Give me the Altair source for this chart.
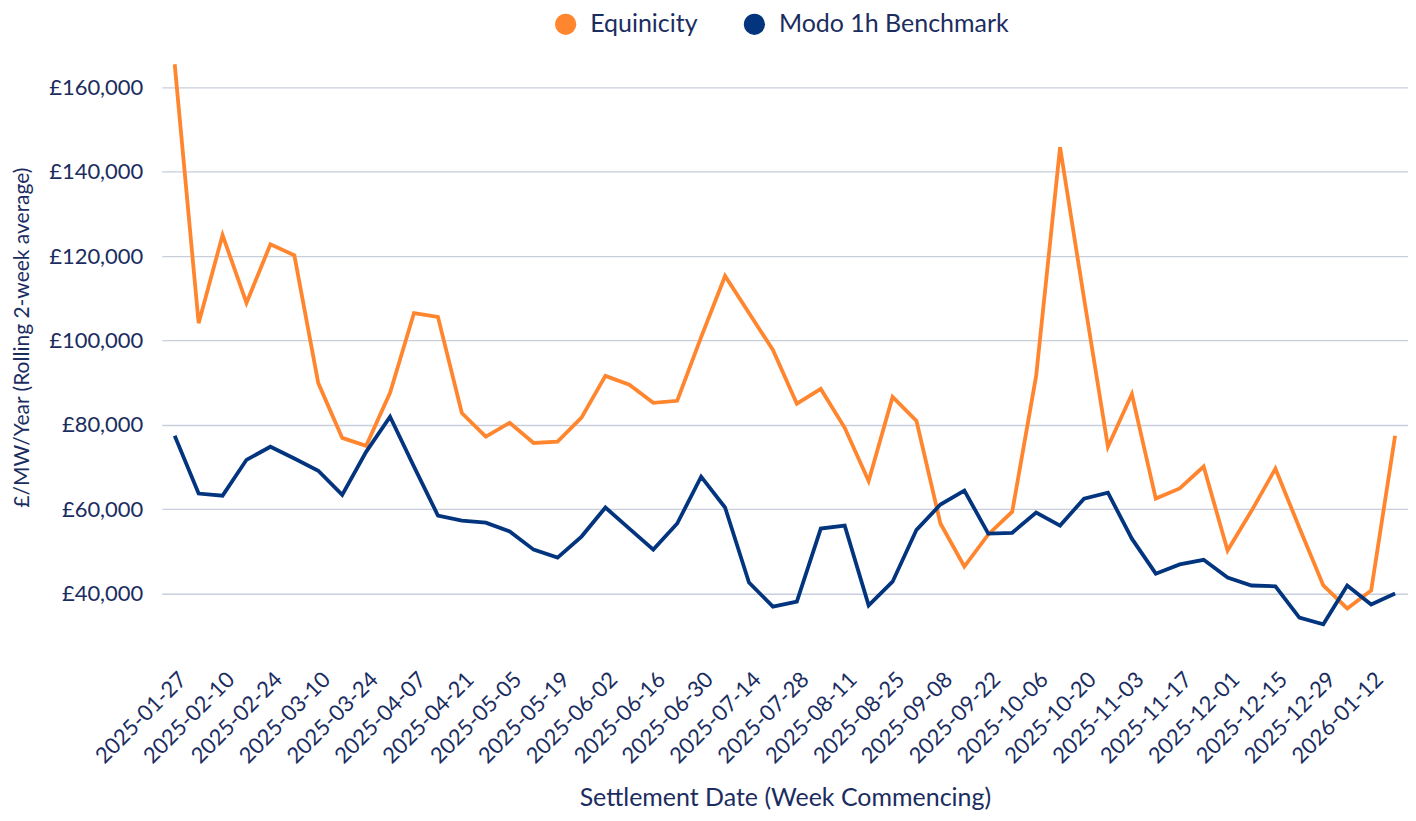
import altair as alt
import pandas as pd

weeks = [
    "2025-01-27", "2025-02-03", "2025-02-10", "2025-02-17", "2025-02-24", "2025-03-03",
    "2025-03-10", "2025-03-17", "2025-03-24", "2025-03-31", "2025-04-07", "2025-04-14",
    "2025-04-21", "2025-04-28", "2025-05-05", "2025-05-12", "2025-05-19", "2025-05-26",
    "2025-06-02", "2025-06-09", "2025-06-16", "2025-06-23", "2025-06-30", "2025-07-07",
    "2025-07-14", "2025-07-21", "2025-07-28", "2025-08-04", "2025-08-11", "2025-08-18",
    "2025-08-25", "2025-09-01", "2025-09-08", "2025-09-15", "2025-09-22", "2025-09-29",
    "2025-10-06", "2025-10-13", "2025-10-20", "2025-10-27", "2025-11-03", "2025-11-10",
    "2025-11-17", "2025-11-24", "2025-12-01", "2025-12-08", "2025-12-15", "2025-12-22",
    "2025-12-29", "2026-01-05", "2026-01-12", "2026-01-19",
]

equinicity = [
    165500, 104100, 125000, 108900, 122800, 120200, 89900, 76900, 75000, 87600,
    106500, 105600, 82800, 77200, 80500, 75700, 76000, 81700, 91600, 89500,
    85200, 85700, 100800, 115300, 106500, 97750, 85000, 88500, 79300, 66700,
    86600, 80900, 56600, 46400, 54000, 59400, 91600, 145800, 110000, 74800,
    87300, 62500, 64900, 70100, 50200, 59600, 69600, 55600, 41900, 36450,
    40700, 77400,
]

modo = [
    77400, 63700, 63200, 71700, 74800, 72000, 69100, 63400, 73600, 81900,
    70100, 58500, 57300, 56800, 54700, 50400, 48500, 53500, 60400, 55400,
    50400, 56600, 67700, 60400, 42600, 36900, 38100, 55400, 56100, 37200,
    42800, 55100, 61100, 64400, 54200, 54400, 59200, 56100, 62500, 63900,
    53000, 44700, 46900, 48000, 43800, 41900, 41700, 34300, 32700, 41900,
    37400, 40000,
]

series_names = ["Equinicity", "Modo 1h Benchmark"]
series_colors = ["#FF862E", "#03357F"]
y_ticks = [40000, 60000, 80000, 100000, 120000, 140000, 160000]
y_domain = [30000, 178700]
x_label_weeks = weeks[::2]

TEXT = "#1B2D5F"
FONT = "Lato"

df = pd.DataFrame({
    "week": weeks * 2,
    "value": equinicity + modo,
    "series": [series_names[0]] * len(weeks) + [series_names[1]] * len(weeks),
})
df["legend_series"] = df["series"]

x_enc = alt.X(
    "week:O",
    sort=weeks,
    scale=alt.Scale(type="point", padding=0.54),
    axis=alt.Axis(
        values=x_label_weeks,
        title="Settlement Date (Week Commencing)",
        labelAngle=-45,
        labelAlign="right",
        labelBaseline="middle",
        labelPadding=40,
        labelOffset=8,
        labelFontSize=22,
        titleFontSize=25,
        titleBaseline="alphabetic",
        titleY=170,
        grid=False,
        ticks=False,
        domain=False,
    ),
)
y_enc = alt.Y(
    "value:Q",
    scale=alt.Scale(domain=y_domain, nice=False, zero=False),
    axis=alt.Axis(
        values=y_ticks,
        labelExpr="'£' + format(datum.value, ',')",
        title="£/MW/Year (Rolling 2-week average)",
        labelFontSize=22,
        titleFontSize=21,
        labelPadding=19,
        titleBaseline="alphabetic",
        titleAngle=-90,
        titleAlign="center",
        titleX=-133,
        titleY=329,
        grid=True,
        ticks=False,
        domain=False,
    ),
)

base = alt.Chart(df)

# stroke legend kept but empty and transparent (needed so the positioned legend renders)
lines = base.mark_line(strokeWidth=3.8, clip=True, strokeJoin="miter").encode(
    x=x_enc,
    y=y_enc,
    stroke=alt.Stroke(
        "series:N",
        scale=alt.Scale(domain=series_names, range=series_colors),
        legend=alt.Legend(
            title=None,
            orient="top",
            direction="horizontal",
            symbolOpacity=0,
            labelOpacity=0,
            labelExpr="''",
            labelFontSize=1,
            symbolSize=1,
        ),
    ),
    detail="series:N",
)

legend_pts = base.mark_circle(size=0, opacity=1).encode(
    x=alt.X("week:O", sort=weeks),
    y=alt.Y("value:Q"),
    fill=alt.Fill(
        "legend_series:N",
        scale=alt.Scale(domain=series_names, range=series_colors),
        legend=alt.Legend(
            title=None,
            orient="none",
            direction="horizontal",
            legendX=392,
            legendY=3,
            symbolType="circle",
            symbolSize=450,
            symbolStrokeWidth=0,
            symbolOpacity=1,
            labelFontSize=25,
            labelOffset=12,
            labelLimit=500,
            columnPadding=44,
        ),
    ),
)

chart = alt.layer(lines, legend_pts).properties(
    width=1248,
    height=628,
    autosize=alt.AutoSizeParams(type="none"),
    padding={"left": 154, "top": 0, "right": 0, "bottom": 176},
).configure(
    font=FONT,
).configure_axis(
    labelColor=TEXT,
    titleColor=TEXT,
    labelFont=FONT,
    titleFont=FONT,
    titleFontWeight="normal",
    gridColor="#C9CEDD",
    gridWidth=1.3,
).configure_legend(
    labelColor=TEXT,
    labelFont=FONT,
).configure_view(
    strokeWidth=0,
)

chart.save("out.html", embed_options={"renderer": "svg", "actions": False})
